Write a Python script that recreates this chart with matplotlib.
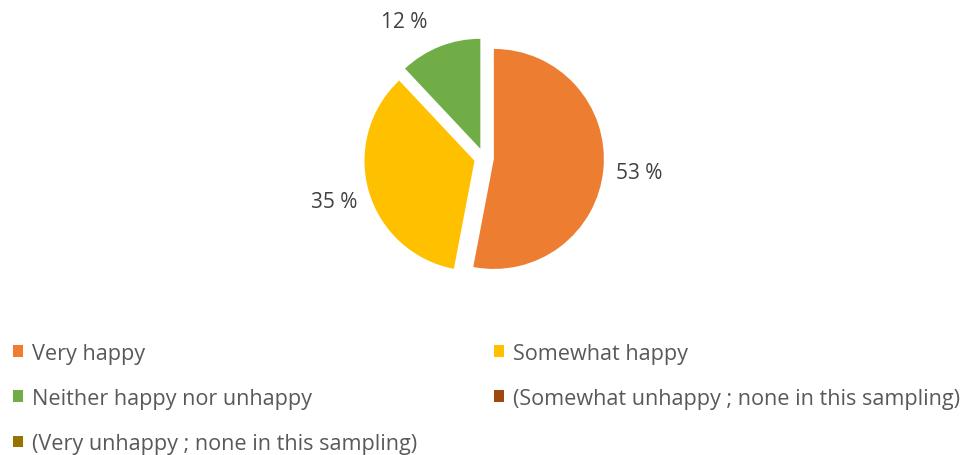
import matplotlib
matplotlib.use("Agg")
from matplotlib import pyplot as plt
from matplotlib.patches import Patch

# -------------------- Data --------------------
categories = [
    "Very happy",
    "Somewhat happy",
    "Neither happy nor unhappy",
    "(Somewhat unhappy ; none in this sampling)",
    "(Very unhappy ; none in this sampling)",
]
shares = [53, 35, 12, 0, 0]
colors = ["#ED7D31", "#FFC000", "#70AD47", "#9E480E", "#997300"]

# -------------------- Plot --------------------
plt.rcParams["font.family"] = ["Open Sans", "DejaVu Sans"]

W, H = 970, 456
fig = plt.figure(figsize=(W / 100, H / 100), dpi=100)

# pie centre / radius in pixels
cx, cy, r = 484, 297, 110
lim = 1.4
half = lim * r
ax = fig.add_axes([(cx - half) / W, (cy - half) / H, 2 * half / W, 2 * half / H])

drawn = [(v, c) for v, c in zip(shares, colors) if v > 0]
vals = [v for v, _ in drawn]
cols = [c for _, c in drawn]

wedges, texts, autotexts = ax.pie(
    vals,
    colors=cols,
    startangle=90,
    counterclock=False,
    explode=[0.09] * len(vals),
    autopct=lambda p: f"{p:.0f} %",
    pctdistance=1.33,
    textprops={"fontsize": 15, "color": "#404040"},
    wedgeprops={"linewidth": 0},
)
# small labels sit a bit off the wedge bisector
x, y = autotexts[2].get_position()
autotexts[2].set_position((x - 0.2, y - 0.08))

ax.set_xlim(-lim, lim)
ax.set_ylim(-lim, lim)
ax.set_aspect("equal")
ax.axis("off")

# legend, row by row in two columns
order = [0, 2, 4, 1, 3]
handles = [Patch(facecolor=colors[i], edgecolor="none") for i in order]
labels = [categories[i] for i in order]
leg = fig.legend(
    handles,
    labels,
    ncol=2,
    loc="upper left",
    bbox_to_anchor=(4 / W, 1 - 335 / H),
    frameon=False,
    fontsize=15.6,
    handlelength=0.46,
    handleheight=0.46,
    handletextpad=0.42,
    columnspacing=3.55,
    labelspacing=1.12,
    borderaxespad=0,
)
for t in leg.get_texts():
    t.set_color("#595959")

fig.savefig("out.png", dpi=100, facecolor="white")
